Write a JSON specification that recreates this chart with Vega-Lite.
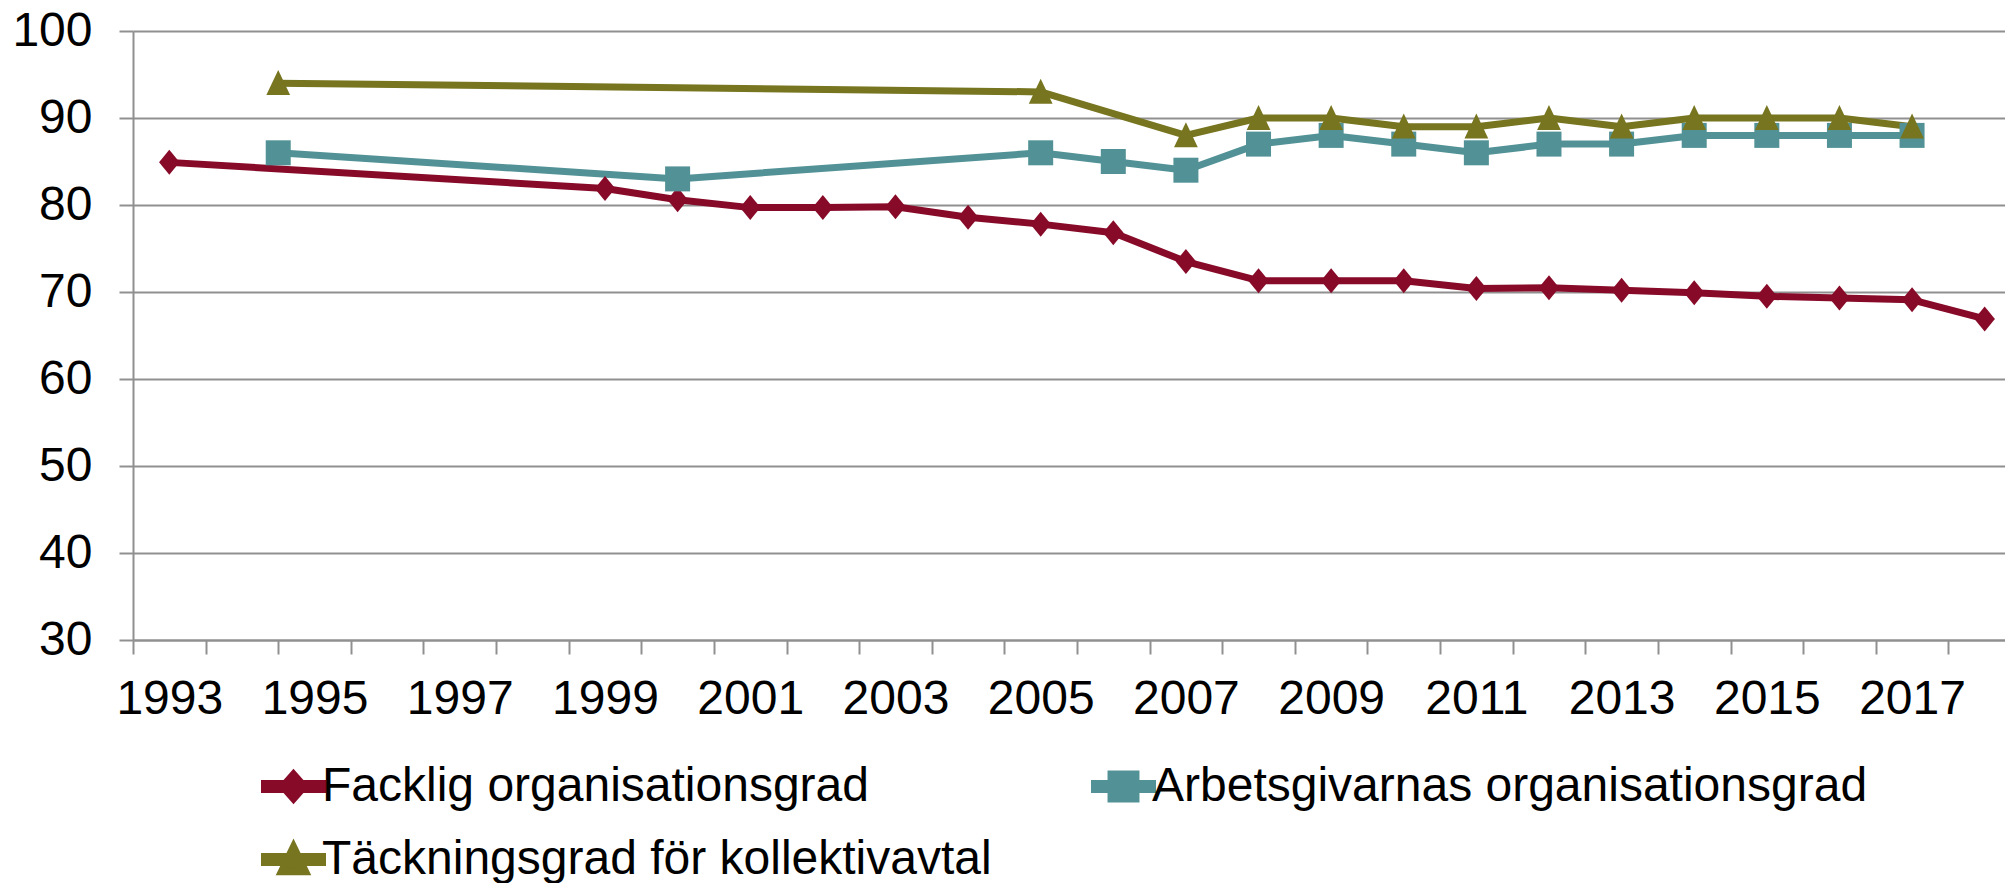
{
  "$schema": "https://vega.github.io/schema/vega-lite/v6.json",
  "autosize": {"type": "none"},
  "padding": {"left": 133, "top": 31, "right": 0, "bottom": 243},
  "width": 1872,
  "height": 609,
  "background": "white",
  "config": {
    "view": {"stroke": null},
    "font": "Liberation Sans",
    "line": {"strokeWidth": 7}
  },
  "data": {
    "values": [
      {"year": 1993, "value": 84.9, "series": "Facklig organisationsgrad"},
      {"year": 1999, "value": 81.9, "series": "Facklig organisationsgrad"},
      {"year": 2000, "value": 80.6, "series": "Facklig organisationsgrad"},
      {"year": 2001, "value": 79.7, "series": "Facklig organisationsgrad"},
      {"year": 2002, "value": 79.7, "series": "Facklig organisationsgrad"},
      {"year": 2003, "value": 79.8, "series": "Facklig organisationsgrad"},
      {"year": 2004, "value": 78.6, "series": "Facklig organisationsgrad"},
      {"year": 2005, "value": 77.8, "series": "Facklig organisationsgrad"},
      {"year": 2006, "value": 76.8, "series": "Facklig organisationsgrad"},
      {"year": 2007, "value": 73.5, "series": "Facklig organisationsgrad"},
      {"year": 2008, "value": 71.3, "series": "Facklig organisationsgrad"},
      {"year": 2009, "value": 71.3, "series": "Facklig organisationsgrad"},
      {"year": 2010, "value": 71.3, "series": "Facklig organisationsgrad"},
      {"year": 2011, "value": 70.4, "series": "Facklig organisationsgrad"},
      {"year": 2012, "value": 70.5, "series": "Facklig organisationsgrad"},
      {"year": 2013, "value": 70.2, "series": "Facklig organisationsgrad"},
      {"year": 2014, "value": 69.9, "series": "Facklig organisationsgrad"},
      {"year": 2015, "value": 69.5, "series": "Facklig organisationsgrad"},
      {"year": 2016, "value": 69.3, "series": "Facklig organisationsgrad"},
      {"year": 2017, "value": 69.1, "series": "Facklig organisationsgrad"},
      {"year": 2018, "value": 66.9, "series": "Facklig organisationsgrad"},
      {"year": 1994.5, "value": 86, "series": "Arbetsgivarnas organisationsgrad"},
      {"year": 2000, "value": 83, "series": "Arbetsgivarnas organisationsgrad"},
      {"year": 2005, "value": 86, "series": "Arbetsgivarnas organisationsgrad"},
      {"year": 2006, "value": 85, "series": "Arbetsgivarnas organisationsgrad"},
      {"year": 2007, "value": 84, "series": "Arbetsgivarnas organisationsgrad"},
      {"year": 2008, "value": 87, "series": "Arbetsgivarnas organisationsgrad"},
      {"year": 2009, "value": 88, "series": "Arbetsgivarnas organisationsgrad"},
      {"year": 2010, "value": 87, "series": "Arbetsgivarnas organisationsgrad"},
      {"year": 2011, "value": 86, "series": "Arbetsgivarnas organisationsgrad"},
      {"year": 2012, "value": 87, "series": "Arbetsgivarnas organisationsgrad"},
      {"year": 2013, "value": 87, "series": "Arbetsgivarnas organisationsgrad"},
      {"year": 2014, "value": 88, "series": "Arbetsgivarnas organisationsgrad"},
      {"year": 2015, "value": 88, "series": "Arbetsgivarnas organisationsgrad"},
      {"year": 2016, "value": 88, "series": "Arbetsgivarnas organisationsgrad"},
      {"year": 2017, "value": 88, "series": "Arbetsgivarnas organisationsgrad"},
      {"year": 1994.5, "value": 94, "series": "Täckningsgrad för kollektivavtal"},
      {"year": 2005, "value": 93, "series": "Täckningsgrad för kollektivavtal"},
      {"year": 2007, "value": 88, "series": "Täckningsgrad för kollektivavtal"},
      {"year": 2008, "value": 90, "series": "Täckningsgrad för kollektivavtal"},
      {"year": 2009, "value": 90, "series": "Täckningsgrad för kollektivavtal"},
      {"year": 2010, "value": 89, "series": "Täckningsgrad för kollektivavtal"},
      {"year": 2011, "value": 89, "series": "Täckningsgrad för kollektivavtal"},
      {"year": 2012, "value": 90, "series": "Täckningsgrad för kollektivavtal"},
      {"year": 2013, "value": 89, "series": "Täckningsgrad för kollektivavtal"},
      {"year": 2014, "value": 90, "series": "Täckningsgrad för kollektivavtal"},
      {"year": 2015, "value": 90, "series": "Täckningsgrad för kollektivavtal"},
      {"year": 2016, "value": 90, "series": "Täckningsgrad för kollektivavtal"},
      {"year": 2017, "value": 89, "series": "Täckningsgrad för kollektivavtal"}
    ]
  },
  "encoding": {
    "x": {
      "field": "year",
      "type": "quantitative",
      "scale": {"domain": [1992.5, 2018.28], "nice": false, "zero": false},
      "axis": {
        "title": null,
        "grid": false,
        "values": [1992.5, 1993, 1993.5, 1994.5, 1995, 1995.5, 1996.5, 1997, 1997.5, 1998.5, 1999, 1999.5, 2000.5, 2001, 2001.5, 2002.5, 2003, 2003.5, 2004.5, 2005, 2005.5, 2006.5, 2007, 2007.5, 2008.5, 2009, 2009.5, 2010.5, 2011, 2011.5, 2012.5, 2013, 2013.5, 2014.5, 2015, 2015.5, 2016.5, 2017, 2017.5],
        "labelExpr": "datum.value % 2 === 1 ? toString(datum.value) : ''",
        "tickOpacity": {"condition": {"test": "datum.value % 1 === 0", "value": 0}, "value": 1},
        "labelOverlap": false,
        "labelFlush": false,
        "labelFontSize": 48,
        "labelFont": "Liberation Sans",
        "labelColor": "#000000",
        "labelPadding": 21,
        "tickSize": 14,
        "tickWidth": 2,
        "tickColor": "#909090",
        "domainColor": "#909090",
        "domainWidth": 2
      }
    },
    "y": {
      "field": "value",
      "type": "quantitative",
      "scale": {"domain": [30, 100], "nice": false, "zero": false},
      "axis": {
        "title": null,
        "values": [30, 40, 50, 60, 70, 80, 90, 100],
        "grid": true,
        "gridColor": "#909090",
        "gridWidth": 2,
        "labelFontSize": 48,
        "labelFont": "Liberation Sans",
        "labelColor": "#000000",
        "labelPadding": 27,
        "tickSize": 14,
        "tickWidth": 2,
        "tickColor": "#909090",
        "domainColor": "#909090",
        "domainWidth": 2
      }
    },
    "color": {
      "field": "series",
      "type": "nominal",
      "scale": {
        "domain": ["Facklig organisationsgrad", "Arbetsgivarnas organisationsgrad", "Täckningsgrad för kollektivavtal"],
        "range": ["#870A28", "#529296", "#77751F"]
      },
      "legend": {
        "title": null,
        "orient": "none",
        "legendX": 128,
        "legendY": 723,
        "direction": "horizontal",
        "columns": 2,
        "columnPadding": 88,
        "rowPadding": 14,
        "symbolSize": 3364,
        "symbolStrokeWidth": 0,
        "symbolOpacity": 1,
        "labelFontSize": 48,
        "labelFont": "Liberation Sans",
        "labelColor": "#000000",
        "labelOffset": -4,
        "labelLimit": 1000
      }
    }
  },
  "layer": [
    {
      "mark": {"type": "line", "strokeWidth": 7, "strokeJoin": "round", "strokeCap": "round"},
      "encoding": {"size": {"value": 7}}
    },
    {
      "transform": [{"filter": "datum.series === 'Facklig organisationsgrad'"}],
      "mark": {"type": "point", "filled": true, "opacity": 1, "strokeWidth": 0, "shape": "M0,-1L0.82,0L0,1L-0.82,0Z", "size": 625}
    },
    {
      "transform": [{"filter": "datum.series === 'Arbetsgivarnas organisationsgrad'"}],
      "mark": {"type": "point", "filled": true, "opacity": 1, "strokeWidth": 0, "shape": "M-1,-1L1,-1L1,1L-1,1Z", "size": 625}
    },
    {
      "transform": [{"filter": "datum.series === 'Täckningsgrad för kollektivavtal'"}],
      "mark": {"type": "point", "filled": true, "opacity": 1, "strokeWidth": 0, "shape": "M0,-1.05L0.95,0.95L-0.95,0.95Z", "size": 625}
    },
    {
      "transform": [{"filter": "false"}],
      "mark": {"type": "point", "filled": true, "opacity": 1, "strokeWidth": 0},
      "encoding": {
        "shape": {
          "field": "series",
          "type": "nominal",
          "scale": {
            "domain": ["Facklig organisationsgrad", "Arbetsgivarnas organisationsgrad", "Täckningsgrad för kollektivavtal"],
            "range": [
              "M-1,-0.1L1,-0.1L1,0.1L-1,0.1Z M0,-0.43L0.38,0L0,0.43L-0.38,0Z",
              "M-1,-0.1L1,-0.1L1,0.1L-1,0.1Z M-0.43,-0.43L0.43,-0.43L0.43,0.43L-0.43,0.43Z",
              "M-1,-0.1L1,-0.1L1,0.1L-1,0.1Z M0,-0.45L0.42,0.42L-0.42,0.42Z"
            ]
          },
          "legend": {
            "title": null,
            "orient": "none",
            "legendX": 128,
            "legendY": 723,
            "direction": "horizontal",
            "columns": 2,
            "columnPadding": 88,
            "rowPadding": 14,
            "symbolSize": 3364,
            "symbolStrokeWidth": 0,
            "symbolOpacity": 1,
            "labelFontSize": 48,
            "labelFont": "Liberation Sans",
            "labelColor": "#000000",
            "labelOffset": -4,
            "labelLimit": 1000
          }
        }
      }
    }
  ]
}
